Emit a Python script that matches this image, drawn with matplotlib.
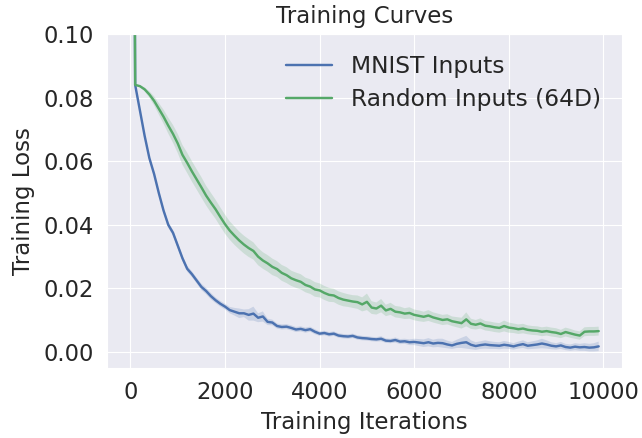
import matplotlib
matplotlib.use("Agg")
import matplotlib.pyplot as plt
import seaborn as sns
import numpy as np

sns.set_style("darkgrid")
plt.rcParams['font.family'] = ['DejaVu Sans']

iterations = list(range(0, 10000, 100))

mnist_loss = [
    0.4000, 0.0840, 0.0760, 0.0680, 0.0610, 0.0560, 0.0500, 0.0445, 0.0400, 0.0375,
    0.0335, 0.0295, 0.0262, 0.0245, 0.0225, 0.0205, 0.0192, 0.0176, 0.0163, 0.0152,
    0.0143, 0.0132, 0.0127, 0.0122, 0.0122, 0.0117, 0.0121, 0.0108, 0.0112, 0.0095,
    0.0093, 0.0082, 0.0079, 0.0080, 0.0076, 0.0071, 0.0073, 0.0069, 0.0072, 0.0064,
    0.0058, 0.0060, 0.0056, 0.0058, 0.0052, 0.0050, 0.0049, 0.0051, 0.0046, 0.0044,
    0.0043, 0.0041, 0.0040, 0.0042, 0.0036, 0.0035, 0.0038, 0.0033, 0.0034, 0.0031,
    0.0032, 0.0030, 0.0028, 0.0031, 0.0027, 0.0029, 0.0028, 0.0024, 0.0021, 0.0026,
    0.0029, 0.0031, 0.0023, 0.0019, 0.0022, 0.0024, 0.0022, 0.0021, 0.0020, 0.0023,
    0.0021, 0.0018, 0.0022, 0.0025, 0.0020, 0.0022, 0.0024, 0.0027, 0.0024, 0.0020,
    0.0018, 0.0021, 0.0016, 0.0014, 0.0017, 0.0015, 0.0016, 0.0014, 0.0015, 0.0018,
]
mnist_spread = [
    0.0000, 0.0002, 0.0004, 0.0005, 0.0006, 0.0007, 0.0008, 0.0008, 0.0009, 0.0009,
    0.0009, 0.0009, 0.0009, 0.0009, 0.0009, 0.0010, 0.0010, 0.0010, 0.0009, 0.0009,
    0.0009, 0.0010, 0.0012, 0.0015, 0.0012, 0.0018, 0.0022, 0.0014, 0.0016, 0.0010,
    0.0009, 0.0008, 0.0008, 0.0008, 0.0008, 0.0008, 0.0008, 0.0008, 0.0008, 0.0008,
    0.0007, 0.0007, 0.0007, 0.0007, 0.0007, 0.0007, 0.0007, 0.0007, 0.0007, 0.0007,
    0.0007, 0.0007, 0.0007, 0.0008, 0.0007, 0.0007, 0.0008, 0.0008, 0.0008, 0.0009,
    0.0010, 0.0011, 0.0012, 0.0013, 0.0012, 0.0013, 0.0014, 0.0012, 0.0011, 0.0013,
    0.0016, 0.0020, 0.0014, 0.0012, 0.0012, 0.0013, 0.0012, 0.0011, 0.0011, 0.0012,
    0.0011, 0.0010, 0.0011, 0.0012, 0.0011, 0.0012, 0.0013, 0.0015, 0.0013, 0.0011,
    0.0010, 0.0011, 0.0010, 0.0010, 0.0011, 0.0011, 0.0012, 0.0012, 0.0013, 0.0015,
]

random_loss = [
    0.4000, 0.0840, 0.0836, 0.0826, 0.0810, 0.0790, 0.0765, 0.0740, 0.0712, 0.0686,
    0.0656, 0.0620, 0.0595, 0.0568, 0.0543, 0.0518, 0.0492, 0.0470, 0.0449, 0.0425,
    0.0402, 0.0382, 0.0366, 0.0351, 0.0338, 0.0327, 0.0318, 0.0300, 0.0288, 0.0279,
    0.0268, 0.0261, 0.0249, 0.0242, 0.0232, 0.0226, 0.0221, 0.0211, 0.0206, 0.0197,
    0.0194, 0.0186, 0.0180, 0.0178, 0.0170, 0.0165, 0.0162, 0.0159, 0.0157, 0.0150,
    0.0158, 0.0140, 0.0137, 0.0146, 0.0131, 0.0136, 0.0127, 0.0125, 0.0121, 0.0123,
    0.0117, 0.0114, 0.0111, 0.0115, 0.0109, 0.0105, 0.0101, 0.0103, 0.0097, 0.0094,
    0.0091, 0.0103, 0.0089, 0.0086, 0.0090, 0.0083, 0.0081, 0.0078, 0.0076, 0.0082,
    0.0077, 0.0075, 0.0072, 0.0074, 0.0070, 0.0068, 0.0067, 0.0064, 0.0066, 0.0063,
    0.0061, 0.0057, 0.0063, 0.0059, 0.0055, 0.0052, 0.0064, 0.0065, 0.0065, 0.0066,
]
random_spread = [
    0.0000, 0.0000, 0.0003, 0.0006, 0.0010, 0.0014, 0.0018, 0.0022, 0.0025, 0.0028,
    0.0030, 0.0031, 0.0032, 0.0032, 0.0032, 0.0032, 0.0031, 0.0031, 0.0030, 0.0030,
    0.0030, 0.0029, 0.0029, 0.0028, 0.0028, 0.0028, 0.0027, 0.0027, 0.0026, 0.0026,
    0.0026, 0.0025, 0.0025, 0.0025, 0.0024, 0.0024, 0.0024, 0.0023, 0.0023, 0.0023,
    0.0022, 0.0022, 0.0022, 0.0021, 0.0021, 0.0021, 0.0020, 0.0020, 0.0021, 0.0022,
    0.0026, 0.0020, 0.0019, 0.0021, 0.0018, 0.0019, 0.0018, 0.0018, 0.0017, 0.0018,
    0.0017, 0.0017, 0.0016, 0.0017, 0.0016, 0.0016, 0.0016, 0.0016, 0.0015, 0.0016,
    0.0017, 0.0022, 0.0016, 0.0015, 0.0016, 0.0015, 0.0015, 0.0015, 0.0015, 0.0017,
    0.0016, 0.0015, 0.0015, 0.0015, 0.0014, 0.0014, 0.0014, 0.0014, 0.0014, 0.0014,
    0.0014, 0.0013, 0.0014, 0.0014, 0.0013, 0.0013, 0.0014, 0.0014, 0.0014, 0.0014,
]

labels = ["MNIST Inputs", "Random Inputs (64D)"]
colors = ["#4C72B0", "#55A868"]

fig = plt.figure(figsize=(6.42, 4.38), dpi=100)
ax = fig.add_axes([0.1667, 0.1598, 0.8023, 0.7626])

for loss, spread, lab, col in [(mnist_loss, mnist_spread, labels[0], colors[0]),
                               (random_loss, random_spread, labels[1], colors[1])]:
    x = np.array(iterations)
    y = np.array(loss)
    s = np.array(spread)
    ax.fill_between(x, y - s, y + s, color=col, alpha=0.2, linewidth=0)
    ax.plot(x, y, color=col, linewidth=1.75, label=lab)

ax.set_ylim(-0.005, 0.1)
ax.set_xlim(-495, 10395)
ax.set_yticks([0.0, 0.02, 0.04, 0.06, 0.08, 0.10])
ax.set_yticklabels(["0.00", "0.02", "0.04", "0.06", "0.08", "0.10"])
ax.set_xticks([0, 2000, 4000, 6000, 8000, 10000])
ax.tick_params(labelsize=16.3, colors=".15", pad=6)
ax.set_xlabel("Training Iterations", fontsize=16.5, color=".15", labelpad=5)
ax.set_ylabel("Training Loss", fontsize=16.5, color=".15", labelpad=6)
ax.set_title("Training Curves", fontsize=16.5, color=".15", pad=8)
leg = ax.legend(loc="upper right", fontsize=16.8, frameon=False,
                borderaxespad=0.5, labelspacing=0.45)
for t in leg.get_texts():
    t.set_color(".15")

fig.savefig("out.png", dpi=100)
